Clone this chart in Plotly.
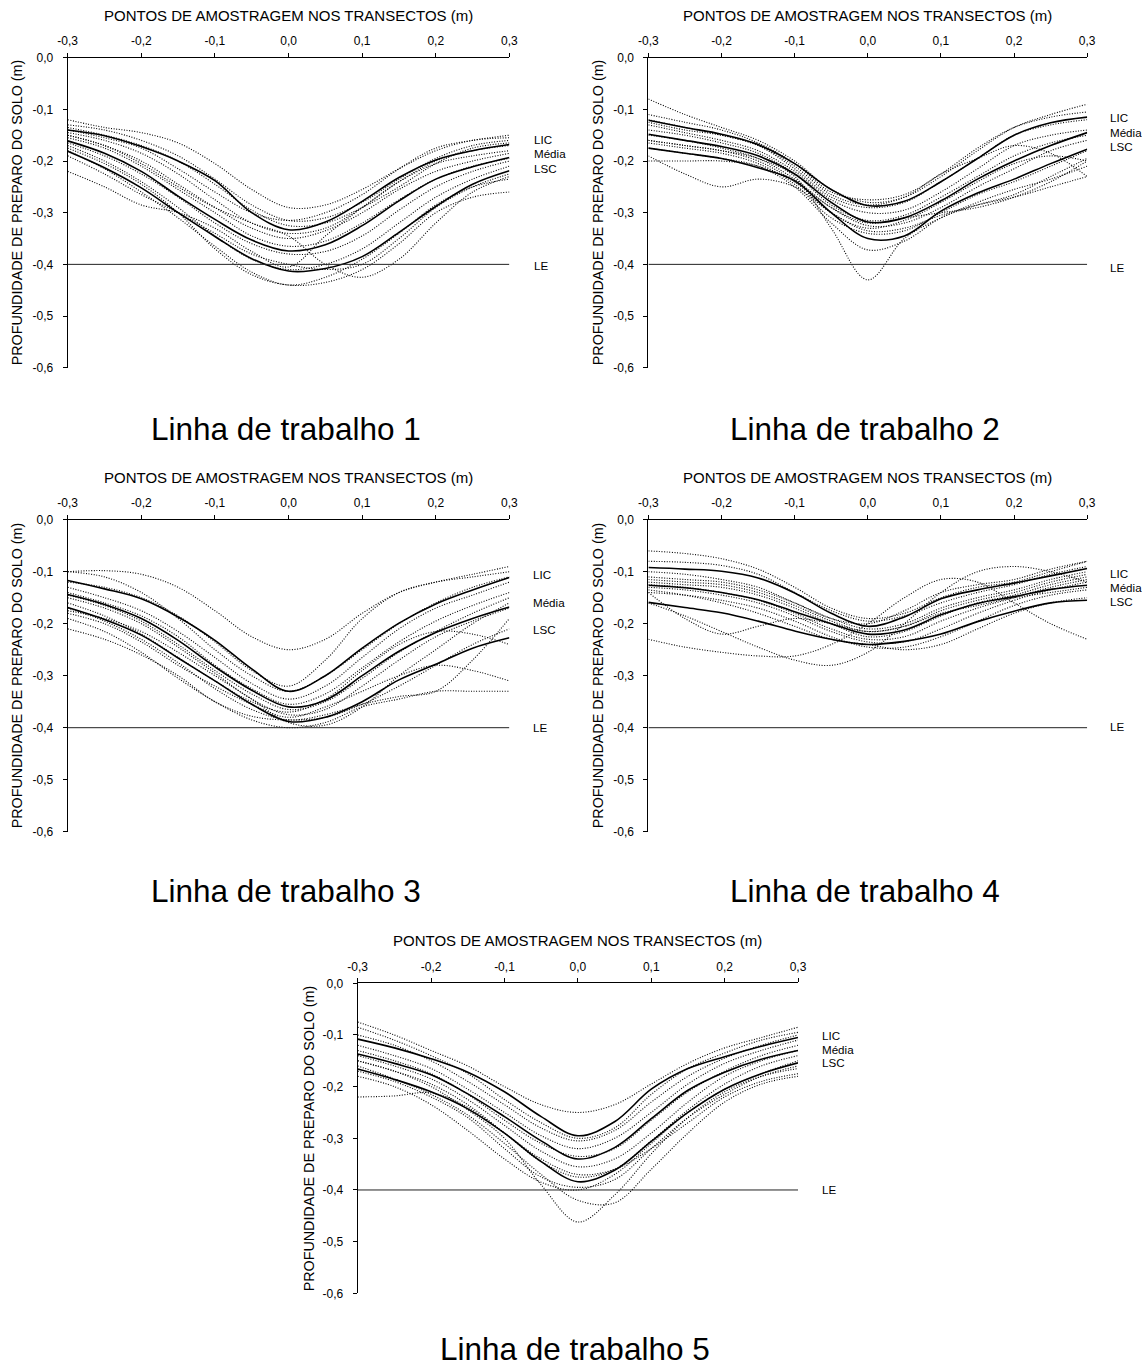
import plotly.graph_objects as go

W, H = 1142, 1370

# ---------------- data ----------------
X = [-0.30, -0.25, -0.20, -0.15, -0.10, -0.05, 0.00, 0.05, 0.10, 0.15, 0.20, 0.25, 0.30]
X_TICK_VALS = [-0.3, -0.2, -0.1, 0.0, 0.1, 0.2, 0.3]
X_TICK_TEXT = ["-0,3", "-0,2", "-0,1", "0,0", "0,1", "0,2", "0,3"]
Y_TICK_VALS = [0.0, -0.1, -0.2, -0.3, -0.4, -0.5, -0.6]
Y_TICK_TEXT = ["0,0", "-0,1", "-0,2", "-0,3", "-0,4", "-0,5", "-0,6"]
LE_VALUE = -0.4
X_TITLE = "PONTOS DE AMOSTRAGEM NOS TRANSECTOS (m)"
Y_TITLE = "PROFUNDIDADE DE PREPARO DO SOLO (m)"
SUBTITLES = ["Linha de trabalho 1", "Linha de trabalho 2", "Linha de trabalho 3",
             "Linha de trabalho 4", "Linha de trabalho 5"]
LABELS = ["LIC", "Média", "LSC", "LE"]

# Linha 1
L1_LIC = [-0.140, -0.151, -0.172, -0.200, -0.238, -0.300, -0.333, -0.318, -0.278, -0.232, -0.198, -0.180, -0.168]
L1_MEDIA = [-0.161, -0.185, -0.220, -0.268, -0.313, -0.353, -0.374, -0.362, -0.325, -0.277, -0.235, -0.211, -0.193]
L1_LSC = [-0.181, -0.213, -0.252, -0.300, -0.346, -0.389, -0.413, -0.408, -0.385, -0.338, -0.288, -0.245, -0.219]
L1_TRANSECTS = [
    [-0.120, -0.135, -0.145, -0.165, -0.205, -0.255, -0.290, -0.285, -0.255, -0.215, -0.180, -0.160, -0.155],
    [-0.130, -0.140, -0.160, -0.190, -0.235, -0.285, -0.315, -0.310, -0.280, -0.235, -0.195, -0.170, -0.160],
    [-0.135, -0.150, -0.170, -0.200, -0.245, -0.295, -0.325, -0.320, -0.290, -0.250, -0.205, -0.175, -0.165],
    [-0.145, -0.160, -0.185, -0.225, -0.275, -0.320, -0.340, -0.330, -0.290, -0.240, -0.200, -0.180, -0.170],
    [-0.150, -0.170, -0.200, -0.245, -0.290, -0.330, -0.350, -0.335, -0.300, -0.255, -0.220, -0.200, -0.185],
    [-0.155, -0.175, -0.210, -0.255, -0.300, -0.345, -0.365, -0.355, -0.320, -0.275, -0.235, -0.210, -0.195],
    [-0.165, -0.190, -0.225, -0.270, -0.320, -0.360, -0.380, -0.375, -0.345, -0.295, -0.250, -0.220, -0.200],
    [-0.170, -0.200, -0.240, -0.290, -0.345, -0.390, -0.410, -0.400, -0.370, -0.320, -0.270, -0.235, -0.210],
    [-0.175, -0.205, -0.245, -0.300, -0.370, -0.420, -0.440, -0.435, -0.410, -0.360, -0.300, -0.270, -0.260],
    [-0.180, -0.215, -0.260, -0.310, -0.365, -0.415, -0.440, -0.425, -0.390, -0.340, -0.285, -0.250, -0.235],
    [-0.220, -0.250, -0.285, -0.300, -0.330, -0.375, -0.405, -0.345, -0.290, -0.240, -0.205, -0.190, -0.180],
    [-0.150, -0.170, -0.205, -0.250, -0.290, -0.320, -0.345, -0.400, -0.425, -0.390, -0.320, -0.260, -0.230],
    [-0.140, -0.155, -0.175, -0.215, -0.260, -0.300, -0.315, -0.300, -0.265, -0.215, -0.175, -0.160, -0.150],
    [-0.190, -0.225, -0.265, -0.300, -0.340, -0.380, -0.400, -0.410, -0.400, -0.350, -0.290, -0.250, -0.225],
]

# Linha 2
L2_LIC = [-0.121, -0.135, -0.148, -0.168, -0.205, -0.255, -0.286, -0.278, -0.240, -0.195, -0.150, -0.126, -0.115]
L2_MEDIA = [-0.148, -0.160, -0.172, -0.190, -0.225, -0.280, -0.318, -0.310, -0.277, -0.235, -0.200, -0.170, -0.145]
L2_LSC = [-0.175, -0.185, -0.195, -0.213, -0.238, -0.300, -0.350, -0.345, -0.297, -0.262, -0.235, -0.205, -0.177]
L2_TRANSECTS = [
    [-0.080, -0.110, -0.135, -0.160, -0.200, -0.255, -0.280, -0.270, -0.230, -0.180, -0.135, -0.110, -0.090],
    [-0.110, -0.125, -0.140, -0.165, -0.205, -0.260, -0.275, -0.265, -0.225, -0.175, -0.135, -0.115, -0.105],
    [-0.120, -0.135, -0.150, -0.170, -0.215, -0.270, -0.290, -0.280, -0.240, -0.195, -0.150, -0.130, -0.120],
    [-0.130, -0.145, -0.160, -0.180, -0.220, -0.275, -0.300, -0.295, -0.260, -0.215, -0.170, -0.150, -0.140],
    [-0.140, -0.150, -0.165, -0.185, -0.225, -0.285, -0.315, -0.305, -0.270, -0.230, -0.190, -0.165, -0.150],
    [-0.150, -0.160, -0.175, -0.195, -0.235, -0.290, -0.325, -0.320, -0.290, -0.250, -0.215, -0.180, -0.160],
    [-0.160, -0.170, -0.180, -0.200, -0.240, -0.300, -0.330, -0.315, -0.280, -0.240, -0.205, -0.190, -0.200],
    [-0.165, -0.175, -0.185, -0.205, -0.245, -0.310, -0.340, -0.335, -0.300, -0.265, -0.240, -0.210, -0.180],
    [-0.175, -0.185, -0.195, -0.210, -0.250, -0.320, -0.372, -0.355, -0.310, -0.285, -0.265, -0.230, -0.195],
    [-0.160, -0.170, -0.180, -0.195, -0.230, -0.330, -0.430, -0.350, -0.310, -0.280, -0.255, -0.235, -0.210],
    [-0.190, -0.225, -0.250, -0.235, -0.250, -0.300, -0.335, -0.330, -0.305, -0.285, -0.270, -0.250, -0.230],
    [-0.200, -0.200, -0.200, -0.210, -0.240, -0.290, -0.320, -0.310, -0.300, -0.290, -0.270, -0.240, -0.200],
    [-0.125, -0.140, -0.150, -0.170, -0.210, -0.265, -0.285, -0.270, -0.225, -0.195, -0.170, -0.185, -0.230],
]

# Linha 3
L3_LIC = [-0.117, -0.133, -0.152, -0.187, -0.232, -0.287, -0.330, -0.300, -0.247, -0.199, -0.162, -0.135, -0.111]
L3_MEDIA = [-0.144, -0.163, -0.190, -0.232, -0.283, -0.328, -0.360, -0.347, -0.300, -0.253, -0.217, -0.190, -0.168]
L3_LSC = [-0.169, -0.192, -0.222, -0.266, -0.310, -0.355, -0.388, -0.380, -0.350, -0.308, -0.278, -0.247, -0.227]
L3_TRANSECTS = [
    [-0.100, -0.098, -0.105, -0.130, -0.175, -0.225, -0.250, -0.230, -0.180, -0.140, -0.120, -0.105, -0.090],
    [-0.120, -0.130, -0.150, -0.185, -0.235, -0.290, -0.320, -0.270, -0.190, -0.140, -0.120, -0.110, -0.100],
    [-0.130, -0.150, -0.175, -0.215, -0.265, -0.315, -0.345, -0.320, -0.265, -0.210, -0.170, -0.145, -0.120],
    [-0.140, -0.160, -0.185, -0.225, -0.280, -0.325, -0.355, -0.335, -0.285, -0.235, -0.195, -0.165, -0.140],
    [-0.145, -0.165, -0.195, -0.240, -0.290, -0.335, -0.365, -0.350, -0.305, -0.255, -0.215, -0.180, -0.150],
    [-0.150, -0.170, -0.200, -0.245, -0.295, -0.345, -0.375, -0.365, -0.320, -0.270, -0.225, -0.195, -0.170],
    [-0.160, -0.185, -0.220, -0.265, -0.310, -0.350, -0.370, -0.345, -0.290, -0.240, -0.215, -0.220, -0.240],
    [-0.170, -0.195, -0.230, -0.275, -0.325, -0.365, -0.385, -0.375, -0.355, -0.340, -0.330, -0.270, -0.190],
    [-0.180, -0.200, -0.235, -0.280, -0.320, -0.355, -0.380, -0.360, -0.330, -0.300, -0.280, -0.290, -0.310],
    [-0.190, -0.215, -0.255, -0.305, -0.350, -0.385, -0.400, -0.390, -0.360, -0.345, -0.330, -0.330, -0.330],
    [-0.210, -0.230, -0.260, -0.300, -0.350, -0.378, -0.385, -0.380, -0.355, -0.320, -0.280, -0.240, -0.210],
    [-0.175, -0.190, -0.215, -0.255, -0.300, -0.345, -0.390, -0.395, -0.360, -0.300, -0.250, -0.200, -0.160],
    [-0.100, -0.110, -0.140, -0.190, -0.250, -0.300, -0.330, -0.300, -0.250, -0.200, -0.160, -0.130, -0.110],
]

# Linha 4
L4_LIC = [-0.092, -0.095, -0.099, -0.112, -0.141, -0.180, -0.205, -0.187, -0.152, -0.135, -0.122, -0.108, -0.094]
L4_MEDIA = [-0.126, -0.131, -0.140, -0.154, -0.177, -0.200, -0.220, -0.212, -0.183, -0.161, -0.148, -0.134, -0.126]
L4_LSC = [-0.159, -0.169, -0.179, -0.195, -0.214, -0.230, -0.240, -0.234, -0.220, -0.196, -0.176, -0.160, -0.155]
L4_TRANSECTS = [
    [-0.060, -0.065, -0.075, -0.095, -0.130, -0.170, -0.190, -0.180, -0.150, -0.130, -0.120, -0.100, -0.080],
    [-0.080, -0.082, -0.088, -0.105, -0.140, -0.175, -0.195, -0.185, -0.160, -0.140, -0.125, -0.105, -0.090],
    [-0.230, -0.245, -0.255, -0.262, -0.262, -0.240, -0.200, -0.150, -0.115, -0.120, -0.160, -0.200, -0.230],
    [-0.160, -0.185, -0.215, -0.245, -0.270, -0.280, -0.255, -0.200, -0.140, -0.100, -0.090, -0.100, -0.120],
    [-0.140, -0.190, -0.220, -0.205, -0.190, -0.200, -0.215, -0.205, -0.180, -0.165, -0.150, -0.140, -0.130],
    [-0.110, -0.115, -0.120, -0.135, -0.160, -0.190, -0.210, -0.200, -0.170, -0.150, -0.135, -0.115, -0.100],
    [-0.115, -0.120, -0.125, -0.140, -0.165, -0.195, -0.215, -0.205, -0.175, -0.155, -0.140, -0.120, -0.105],
    [-0.120, -0.125, -0.130, -0.145, -0.170, -0.200, -0.225, -0.215, -0.185, -0.160, -0.145, -0.125, -0.110],
    [-0.125, -0.130, -0.140, -0.155, -0.180, -0.210, -0.230, -0.225, -0.195, -0.170, -0.150, -0.130, -0.115],
    [-0.130, -0.135, -0.145, -0.160, -0.185, -0.215, -0.235, -0.235, -0.210, -0.180, -0.155, -0.135, -0.120],
    [-0.140, -0.145, -0.155, -0.170, -0.195, -0.225, -0.245, -0.245, -0.225, -0.195, -0.165, -0.145, -0.135],
    [-0.135, -0.145, -0.160, -0.180, -0.205, -0.230, -0.240, -0.250, -0.240, -0.210, -0.180, -0.160, -0.150],
    [-0.100, -0.105, -0.115, -0.130, -0.160, -0.190, -0.200, -0.175, -0.140, -0.125, -0.115, -0.095, -0.080],
]

# Linha 5
L5_LIC = [-0.108, -0.125, -0.146, -0.172, -0.210, -0.258, -0.295, -0.268, -0.205, -0.165, -0.142, -0.122, -0.105]
L5_MEDIA = [-0.137, -0.155, -0.177, -0.214, -0.258, -0.305, -0.340, -0.318, -0.262, -0.207, -0.172, -0.147, -0.130]
L5_LSC = [-0.166, -0.186, -0.210, -0.243, -0.290, -0.345, -0.384, -0.362, -0.306, -0.250, -0.205, -0.175, -0.154]
L5_TRANSECTS = [
    [-0.150, -0.170, -0.200, -0.245, -0.300, -0.390, -0.462, -0.410, -0.330, -0.260, -0.210, -0.180, -0.165],
    [-0.160, -0.185, -0.215, -0.255, -0.310, -0.370, -0.420, -0.425, -0.360, -0.290, -0.230, -0.195, -0.180],
    [-0.075, -0.100, -0.130, -0.160, -0.200, -0.235, -0.250, -0.235, -0.195, -0.155, -0.125, -0.105, -0.085],
    [-0.220, -0.218, -0.212, -0.240, -0.290, -0.340, -0.370, -0.360, -0.320, -0.270, -0.220, -0.190, -0.175],
    [-0.085, -0.110, -0.140, -0.175, -0.225, -0.270, -0.300, -0.280, -0.215, -0.165, -0.135, -0.110, -0.095],
    [-0.100, -0.120, -0.150, -0.190, -0.235, -0.280, -0.305, -0.285, -0.230, -0.180, -0.145, -0.120, -0.100],
    [-0.120, -0.140, -0.165, -0.205, -0.250, -0.295, -0.320, -0.300, -0.250, -0.195, -0.155, -0.130, -0.110],
    [-0.130, -0.150, -0.175, -0.215, -0.265, -0.310, -0.335, -0.320, -0.265, -0.210, -0.170, -0.140, -0.120],
    [-0.140, -0.160, -0.185, -0.225, -0.275, -0.325, -0.355, -0.340, -0.290, -0.230, -0.180, -0.150, -0.130],
    [-0.150, -0.170, -0.195, -0.235, -0.290, -0.345, -0.375, -0.360, -0.305, -0.245, -0.195, -0.160, -0.140],
    [-0.170, -0.190, -0.220, -0.260, -0.320, -0.375, -0.395, -0.380, -0.320, -0.260, -0.215, -0.180, -0.160],
    [-0.180, -0.200, -0.235, -0.285, -0.340, -0.385, -0.400, -0.370, -0.310, -0.250, -0.205, -0.175, -0.150],
]

DATA = [
    (L1_LIC, L1_MEDIA, L1_LSC, L1_TRANSECTS),
    (L2_LIC, L2_MEDIA, L2_LSC, L2_TRANSECTS),
    (L3_LIC, L3_MEDIA, L3_LSC, L3_TRANSECTS),
    (L4_LIC, L4_MEDIA, L4_LSC, L4_TRANSECTS),
    (L5_LIC, L5_MEDIA, L5_LSC, L5_TRANSECTS),
]

# ---------------- layout geometry (pixels) ----------------
PANELS = [
    dict(x0=67.7, x1=509.4, y0=57.7, y1=367.7, lx=532, ly=[139.3, 154.0, 168.3, 265.5], ytx=16.6, sty=429.2),
    dict(x0=648.4, x1=1087.2, y0=57.7, y1=367.7, lx=1108, ly=[117.0, 132.0, 146.0, 268.0], ytx=597.5, sty=429.2),
    dict(x0=67.7, x1=509.4, y0=519.7, y1=831.7, lx=531, ly=[574.0, 602.3, 629.3, 727.0], ytx=16.6, sty=891.2),
    dict(x0=648.4, x1=1087.2, y0=519.7, y1=831.7, lx=1108, ly=[573.3, 587.3, 601.3, 726.0], ytx=597.5, sty=891.2),
    dict(x0=357.7, x1=798.0, y0=983.3, y1=1293.3, lx=820, ly=[1035.0, 1049.0, 1062.7, 1189.0], ytx=309.0, sty=1348.5),
]

FONT = "Liberation Sans, Arial, sans-serif"


def px_x(px):
    return px / W


def px_y(py):
    return 1 - py / H


fig = go.Figure()
annotations = []
layout_axes = {}

for i, (p, (lic, media, lsc, transects)) in enumerate(zip(PANELS, DATA), start=1):
    xa = "x" if i == 1 else f"x{i}"
    ya = "y" if i == 1 else f"y{i}"
    for t in transects:
        fig.add_trace(go.Scatter(x=X, y=t, xaxis=xa, yaxis=ya, mode="lines",
                                 line=dict(color="black", width=1.1, dash="1px,1.6px",
                                           shape="spline", smoothing=1.0),
                                 hoverinfo="skip", showlegend=False))
    for s in (lic, media, lsc):
        fig.add_trace(go.Scatter(x=X, y=s, xaxis=xa, yaxis=ya, mode="lines",
                                 line=dict(color="black", width=1.6, shape="spline", smoothing=1.0),
                                 showlegend=False))
    fig.add_trace(go.Scatter(x=[X[0], X[-1]], y=[LE_VALUE, LE_VALUE], xaxis=xa, yaxis=ya,
                             mode="lines", line=dict(color="#222", width=1), showlegend=False))

    xkey = "xaxis" if i == 1 else f"xaxis{i}"
    ykey = "yaxis" if i == 1 else f"yaxis{i}"
    layout_axes[xkey] = dict(
        domain=[px_x(p["x0"]), px_x(p["x1"])], anchor=ya, side="top",
        range=[X_TICK_VALS[0], X_TICK_VALS[-1]], tickvals=X_TICK_VALS, ticktext=X_TICK_TEXT,
        ticks="outside", ticklen=4, tickwidth=1, tickcolor="black",
        showline=True, linecolor="black", linewidth=1, showgrid=False, zeroline=False,
        tickfont=dict(family=FONT, size=12, color="black"), ticklabelstandoff=3,
        automargin=False, fixedrange=True,
    )
    layout_axes[ykey] = dict(
        domain=[px_y(p["y1"]), px_y(p["y0"])], anchor=xa,
        range=[Y_TICK_VALS[-1], Y_TICK_VALS[0]], tickvals=Y_TICK_VALS, ticktext=Y_TICK_TEXT,
        ticks="outside", ticklen=4, tickwidth=1, tickcolor="black",
        showline=True, linecolor="black", linewidth=1, showgrid=False, zeroline=False,
        tickfont=dict(family=FONT, size=12, color="black"), ticklabelstandoff=7,
        automargin=False, fixedrange=True,
    )

    cx = (p["x0"] + p["x1"]) / 2
    annotations.append(dict(text=X_TITLE, x=px_x(cx), y=px_y(p["y0"] - 42.5), xref="paper", yref="paper",
                            xanchor="center", yanchor="middle", showarrow=False,
                            font=dict(family=FONT, size=15, color="black")))
    annotations.append(dict(text=Y_TITLE, x=px_x(p["ytx"]), y=px_y((p["y0"] + p["y1"]) / 2),
                            xref="paper", yref="paper", xanchor="center", yanchor="middle",
                            textangle=-90, showarrow=False,
                            font=dict(family=FONT, size=14.3, color="black")))
    for lab, ly in zip(LABELS, p["ly"]):
        annotations.append(dict(text=lab, x=px_x(p["lx"]), y=px_y(ly), xref="paper", yref="paper",
                                xanchor="left", yanchor="middle", showarrow=False,
                                font=dict(family=FONT, size=11.6, color="black")))
    annotations.append(dict(text=SUBTITLES[i - 1], x=px_x(cx - 3), y=px_y(p["sty"]),
                            xref="paper", yref="paper", xanchor="center", yanchor="middle",
                            showarrow=False, borderpad=0,
                            font=dict(family=FONT, size=31.5, color="black")))

fig.update_layout(
    width=W, height=H, margin=dict(l=0, r=0, t=0, b=0, autoexpand=False),
    paper_bgcolor="white", plot_bgcolor="white",
    showlegend=False, annotations=annotations, **layout_axes,
)

fig.write_html("out.html")
